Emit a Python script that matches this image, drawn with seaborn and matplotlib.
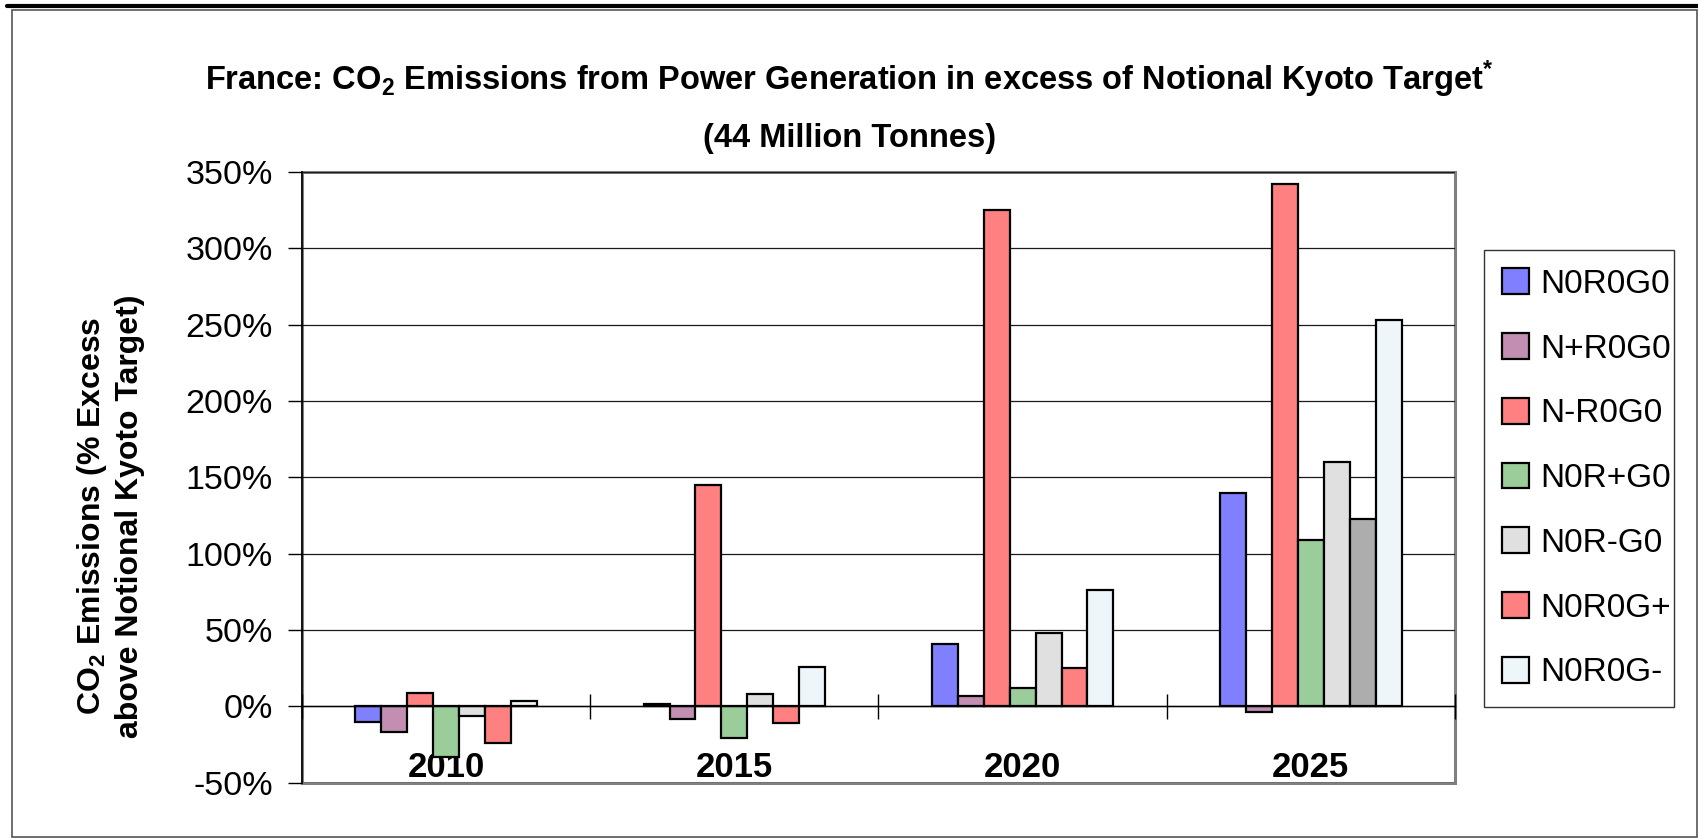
import matplotlib
matplotlib.use("Agg")
import matplotlib.pyplot as plt
from matplotlib.patches import Patch, Rectangle
from matplotlib.lines import Line2D
from matplotlib.ticker import FuncFormatter, FixedLocator
import seaborn as sns
import pandas as pd

# ---- data: % excess over the notional Kyoto target (44 Mt) ----
years = ["2010", "2015", "2020", "2025"]
scenarios = ["N0R0G0", "N+R0G0", "N-R0G0", "N0R+G0", "N0R-G0", "N0R0G+", "N0R0G-"]
n0r0g0 = [-10, 1.5, 41, 140]
nplus_r0g0 = [-17, -8, 7, -4]
nminus_r0g0 = [9, 145, 325, 342]
n0rplus_g0 = [-33, -21, 12, 109]
n0rminus_g0 = [-6, 8, 48, 160]
n0r0gplus = [-24, -11, 25, 123]
n0r0gminus = [3.5, 26, 76, 253]
y_ticks = [-50, 0, 50, 100, 150, 200, 250, 300, 350]

series = [n0r0g0, nplus_r0g0, nminus_r0g0, n0rplus_g0, n0rminus_g0, n0r0gplus, n0r0gminus]
df = pd.DataFrame(
    [(yr, sc, v) for sc, vals in zip(scenarios, series) for yr, v in zip(years, vals)],
    columns=["year", "scenario", "excess"],
)

colors = ["#8080FF", "#C28EB2", "#FF8080", "#9ACD99", "#E0E0E0", "#FF8080", "#EEF6FA"]
palette = dict(zip(scenarios, colors))

sns.set_theme(style="white")
FONT = "Liberation Sans"
plt.rcParams["font.family"] = [FONT, "DejaVu Sans"]
plt.rcParams["mathtext.fontset"] = "custom"
plt.rcParams["mathtext.rm"] = FONT
plt.rcParams["mathtext.bf"] = FONT + ":bold"
plt.rcParams["mathtext.it"] = FONT + ":italic"

W, H = 1699, 840
fig = plt.figure(figsize=(W / 100, H / 100), dpi=100)
fig.patch.set_facecolor("white")

# plot area in pixel coordinates
left, right, top, bottom = 302, 1455, 172, 782.7
ax = fig.add_axes([left / W, 1 - bottom / H, (right - left) / W, (bottom - top) / H])

sns.barplot(
    data=df, x="year", y="excess", hue="scenario",
    order=years, hue_order=scenarios, palette=palette,
    errorbar=None, width=0.63, saturation=1,
    edgecolor="black", linewidth=1.6, legend=False, ax=ax,
)

# the 2025 value of N0R0G+ is shaded grey in this chart
ax.containers[scenarios.index("N0R0G+")][years.index("2025")].set_facecolor("#ADADAD")

ax.set_ylim(-50, 350)
ax.set_xlim(-0.5, len(years) - 0.5)
ax.set_axisbelow(True)
ax.yaxis.set_major_locator(FixedLocator(y_ticks))
ax.yaxis.set_major_formatter(FuncFormatter(lambda v, _: f"{v:.0f}%"))
ax.grid(axis="y", color="#1a1a1a", linewidth=0.9)
ax.grid(axis="x", visible=False)

# plot-area frame: grey box, black value axis, category axis crossing at 0
ax.patch.set_edgecolor("#808080")
ax.patch.set_linewidth(2.2)
for side in ("top", "right"):
    ax.spines[side].set_visible(False)
ax.spines["left"].set_color("black")
ax.spines["left"].set_linewidth(1.2)
ax.spines["bottom"].set_position(("data", 0))
ax.spines["bottom"].set_color("black")
ax.spines["bottom"].set_linewidth(1.0)

ax.tick_params(axis="y", which="major", direction="out", length=10, width=1,
               color="black", pad=11, labelsize=24.5, labelcolor="black", left=True)
ax.set_xticks(range(len(years)))
ax.set_xticklabels(years, fontsize=25, fontweight="bold")
ax.tick_params(axis="x", which="major", length=0, pad=32, labelcolor="black")
ax.set_xticks([i - 0.5 for i in range(len(years) + 1)], minor=True)
ax.tick_params(axis="x", which="minor", direction="inout", length=18, width=1,
               color="black", bottom=True)
ax.set_xlabel("")
ax.set_ylabel("")

# titles
fig.text(0.5, 1 - 79 / H,
         r"France: CO$_\mathbf{2}$ Emissions from Power Generation in excess of Notional Kyoto Target$^{\mathbf{*}}$",
         ha="center", va="center", fontsize=23.5, fontweight="bold", color="black")
fig.text(0.5, 1 - 139 / H, "(44 Million Tonnes)",
         ha="center", va="center", fontsize=23.5, fontweight="bold", color="black")

# value-axis title
fig.text(110 / W, 1 - 516 / H,
         "CO$_\\mathbf{2}$ Emissions (% Excess\nabove Notional Kyoto Target)",
         rotation=90, ha="center", va="center", multialignment="center",
         fontsize=23, fontweight="bold", linespacing=1.3, color="black")

# legend
handles = [Patch(facecolor=palette[s], edgecolor="black", linewidth=1.6, label=s) for s in scenarios]
leg_left, leg_top, leg_w = 1484, 250, 190
leg = ax.legend(handles=handles, loc="upper left", mode="expand",
                bbox_to_anchor=(leg_left / W, 1 - leg_top / H - 0.2, leg_w / W, 0.2),
                bbox_transform=fig.transFigure,
                borderaxespad=0, fontsize=24, frameon=True, fancybox=False,
                handlelength=0.81, handleheight=0.81, handletextpad=0.33,
                labelspacing=1.0, borderpad=0.55)
leg.get_frame().set_edgecolor("black")
leg.get_frame().set_linewidth(1.0)
for t in leg.get_texts():
    t.set_color("black")

# outer chart border and heavy rule at the top of the page
fig.add_artist(Rectangle((12 / W, 1 - 837 / H), (1697 - 12) / W, (837 - 10) / H,
                         transform=fig.transFigure, fill=False,
                         edgecolor="#555555", linewidth=1.2))
fig.add_artist(Line2D([7 / W, 1.0], [1 - 5.5 / H, 1 - 5.5 / H],
                      transform=fig.transFigure, color="black", linewidth=3))

fig.savefig("out.png", dpi=100, facecolor="white")
